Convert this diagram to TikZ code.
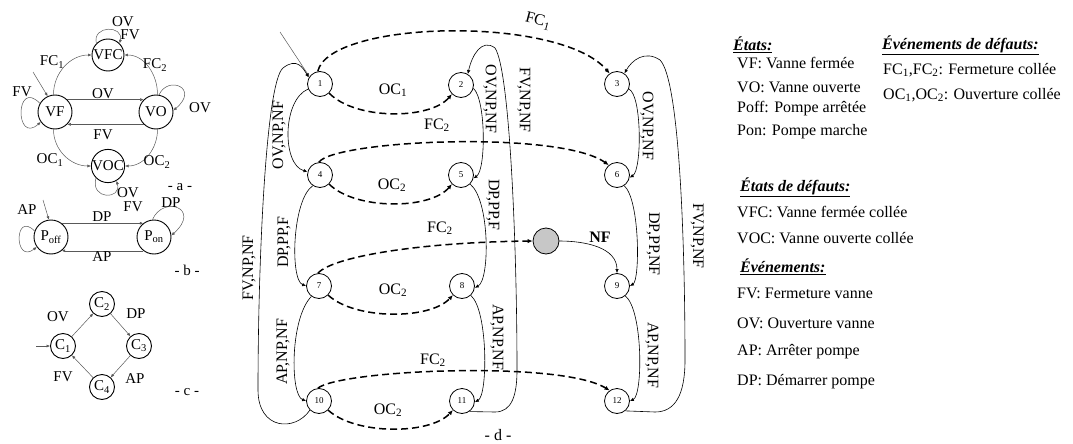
\documentclass[tikz,border=0pt]{standalone}
\usepackage{fontspec}
\setmainfont{Liberation Serif}
\usetikzlibrary{arrows.meta}
\begin{document}
\begin{tikzpicture}[x=1pt,y=-1pt,
  stA/.style={circle,draw,line width=0.9pt,minimum size=34pt,inner sep=0pt,font=\fontsize{15}{15}\selectfont},
  stC/.style={circle,draw,line width=0.9pt,minimum size=25pt,inner sep=0pt,font=\fontsize{15}{15}\selectfont},
  stD/.style={circle,draw,line width=0.8pt,minimum size=25pt,inner sep=0pt,font=\fontsize{9}{9}\selectfont},
  thinar/.style={draw=black!65,line width=0.5pt,-{Latex[length=3.5pt,width=3pt]}},
  solar/.style={draw,line width=0.6pt,-{Latex[length=4pt,width=3.5pt]}},
  dashar/.style={draw,line width=1.5pt,dash pattern=on 7pt off 4pt,-{Latex[length=5pt,width=4.5pt]}},
  lblA/.style={font=\fontsize{15}{15}\selectfont,inner sep=0pt},
  lblD/.style={font=\fontsize{16}{16}\selectfont,inner sep=0pt},
  leg/.style={font=\fontsize{16}{16}\selectfont,inner sep=0pt,anchor=west}
]
\useasboundingbox (0,0) rectangle (1073,444);
% ---------- part a ----------
\node[stA] (VF) at (55,112) {VF};
\node[stA] (VO) at (156,112) {VO};
\node[stA,minimum size=32pt] (VFC) at (108,55) {VFC};
\node[stA,minimum size=32pt] (VOC) at (108,166) {VOC};
\coordinate (iA) at (33,72);
\draw[thinar] (iA) -- (VF.115);
\draw[thinar] (VF.45) -- (VO.135);
\draw[thinar] (VO.225) -- (VF.315);
\draw[thinar] (VF.95) to[out=90,in=180] (VFC.west);
\draw[thinar] (VO.85) to[out=90,in=0] (VFC.east);
\draw[thinar] (VF.265) to[out=-90,in=180] (VOC.west);
\draw[thinar] (VO.275) to[out=-90,in=0] (VOC.east);
\draw[thinar] (VF.150) .. controls (15,78) and (15,145) .. (VF.215);
\draw[thinar] (VO.80) .. controls (168,75) and (200,88) .. (VO.5);
\draw[thinar] (VFC.135) .. controls (92,25) and (124,25) .. (VFC.45);
\draw[thinar] (VOC.225) .. controls (90,200) and (122,200) .. (VOC.300);
\node[lblA] (la1) at (103,94) {OV};
\node[lblA] (la2) at (103,135) {FV};
\node[lblA] (la3) at (52,62) {FC\textsubscript{1}};
\node[lblA] (la4) at (155,65) {FC\textsubscript{2}};
\node[lblA] (la5) at (50,160) {OC\textsubscript{1}};
\node[lblA] (la6) at (157,162) {OC\textsubscript{2}};
\node[lblA] (la7) at (22,92) {FV};
\node[lblA] (la8) at (200,108) {OV};
\node[lblA] (la9) at (123,22) {OV};
\node[lblA] (la10) at (130,35) {FV};
\node[lblA] (la11) at (128,193) {OV};
\node[lblA] (la12) at (133,207) {FV};
\node[lblA] (ta) at (180,187) {- a -};
% ---------- part b ----------
\node[stA] (Poff) at (51,237) {P\textsubscript{off}};
\node[stA] (Pon) at (154,237) {P\textsubscript{on}};
\coordinate (iB) at (43,200);
\draw[thinar] (iB) -- (Poff.97);
\draw[thinar] (Poff.52) -- (Pon.128);
\draw[thinar] (Pon.232) -- (Poff.308);
\draw[thinar] (Poff.160) .. controls (14,210) and (14,265) .. (Poff.215);
\draw[thinar] (Pon.95) .. controls (163,195) and (202,208) .. (Pon.5);
\node[lblA] (lb1) at (102,217) {DP};
\node[lblA] (lb2) at (102,257) {AP};
\node[lblA] (lb3) at (27,210) {AP};
\node[lblA] (lb4) at (171,203) {DP};
\node[lblA] (tb) at (187,270) {- b -};
% ---------- part c ----------
\node[stC] (C1) at (63,346) {C\textsubscript{1}};
\node[stC] (C2) at (102,304) {C\textsubscript{2}};
\node[stC] (C3) at (139,346) {C\textsubscript{3}};
\node[stC] (C4) at (102,387) {C\textsubscript{4}};
\coordinate (iC) at (36,346);
\draw[thinar] (iC) -- (C1.west);
\draw[thinar] (C1) -- (C2);
\draw[thinar] (C2) -- (C3);
\draw[thinar] (C3) -- (C4);
\draw[thinar] (C4) -- (C1);
\node[lblA] (lc1) at (58,317) {OV};
\node[lblA] (lc2) at (136,314) {DP};
\node[lblA] (lc3) at (135,379) {AP};
\node[lblA] (lc4) at (63,377) {FV};
\node[lblA] (tc) at (187,392) {- c -};
% ---------- part d ----------
\node[stD] (n1) at (320,84) {1};
\node[stD] (n2) at (461,85) {2};
\node[stD] (n3) at (617,84) {3};
\node[stD] (n4) at (320,175) {4};
\node[stD] (n5) at (461,175) {5};
\node[stD] (n6) at (617,175) {6};
\node[stD] (n7) at (319,286) {7};
\node[stD] (n8) at (462,286) {8};
\node[stD] (n9) at (617,286) {9};
\node[stD] (n10) at (319,401) {10};
\node[stD] (n11) at (462,401) {11};
\node[stD] (n12) at (617,401) {12};
\node[circle,draw,line width=0.8pt,fill=black!22,minimum size=26pt,inner sep=0pt] (g) at (546,241) {};
\coordinate (iD) at (280,32);
\draw[draw=black!65,line width=0.5pt,-{Latex[length=3.5pt,width=3pt]}] (iD) -- (n1.145);
% dashed fault transitions
\draw[dashar] (n1.-45) .. controls (355,120) and (430,120) .. (n2.225);
\draw[dashar] (n4.-45) .. controls (355,210) and (430,210) .. (n5.225);
\draw[dashar] (n7.-45) .. controls (355,320) and (430,320) .. (n8.225);
\draw[dashar] (n10.-45) .. controls (355,435) and (430,435) .. (n11.225);
\draw[dashar] (n1.100) .. controls (330,20) and (560,15) .. (n3.125);
\draw[dashar] (n4.95) .. controls (335,140) and (560,130) .. (n6.130);
\draw[dashar] (n7.95) .. controls (335,255) and (430,242) .. (g.west);
\draw[dashar] (n10.95) .. controls (340,370) and (560,360) .. (n12.125);
\draw[solar] (g.east) to[out=0,in=90] (n9.north);
% vertical transitions
\draw[solar] (n1.203) .. controls (282,100) and (282,165) .. (n4.165);
\draw[solar] (n4.236) .. controls (292,200) and (290,280) .. (n7.180);
\draw[solar] (n7.234) .. controls (290,318) and (290,395) .. (n10.180);
\draw[solar] (n2.-15) .. controls (486,100) and (486,170) .. (n5.-15);
\draw[solar] (n5.-45) .. controls (490,200) and (490,280) .. (n8.-8);
\draw[solar] (n8.-47) .. controls (488,310) and (488,395) .. (n11.-5);
\draw[solar] (n3.-23) .. controls (642,95) and (642,170) .. (n6.-12);
\draw[solar] (n6.-56) .. controls (640,200) and (640,280) .. (n9.0);
\draw[solar] (n9.-50) .. controls (643,310) and (643,395) .. (n12.0);
% big loops
\draw[solar] (n10.225) .. controls (295,432) and (258,430) .. (258,390)
  .. controls (258,260) and (266,82) .. (283,68)
  .. controls (297,57) and (303,68) .. (n1.150);
\draw[solar] (n11.-55) -- (495,412) .. controls (512,412) and (517,395) .. (517,370)
  .. controls (517,250) and (510,70) .. (495,48)
  .. controls (482,38) and (472,55) .. (n2.58);
\draw[solar] (n12.-50) -- (655,412) .. controls (675,412) and (685,395) .. (685,360)
  .. controls (685,250) and (680,80) .. (660,60)
  .. controls (645,50) and (632,60) .. (n3.55);
% labels d
\node[lblD] (d1) at (393,90) {OC\textsubscript{1}};
\node[lblD] (d2) at (392,185) {OC\textsubscript{2}};
\node[lblD] (d3) at (393,290) {OC\textsubscript{2}};
\node[lblD] (d4) at (388,410) {OC\textsubscript{2}};
\node[lblD] (d5) at (437,125) {FC\textsubscript{2}};
\node[lblD] (d6) at (440,228) {FC\textsubscript{2}};
\node[lblD] (d7) at (433,360) {FC\textsubscript{2}};
\node[lblD,rotate=-15] (d8) at (538,21) {FC\textsubscript{1}};
\node[lblD,font=\fontsize{16}{16}\selectfont\bfseries] (d9) at (600,237) {NF};
\node[lblD,rotate=90] (e1) at (279,135) {OV,NP,NF};
\node[lblD,rotate=90] (e2) at (284,242) {DP,PP,F};
\node[lblD,rotate=90] (e3) at (283,352) {AP,NP,NF};
\node[lblD,rotate=90] (e4) at (249,268) {FV,NP,NF};
\node[lblD,rotate=-90] (e5) at (490,99) {OV,NP,NF};
\node[lblD,rotate=-90] (e6) at (493,205) {DP,PP,F};
\node[lblD,rotate=-90] (e7) at (497,337) {AP,NP,NF};
\node[lblD,rotate=-90] (e8) at (524,100) {FV,NP,NF};
\node[lblD,rotate=-90] (e9) at (647,126) {OV,NP,NF};
\node[lblD,rotate=-90] (e10) at (653,244) {DP,PP,NF};
\node[lblD,rotate=-90] (e11) at (652,355) {AP,NP,NF};
\node[lblD,rotate=-90] (e12) at (697,236) {FV,NP,NF};
\node[lblD] (td) at (498,435) {- d -};
% ---------- legend ----------
\node[leg] (L1) at (733,45) {\underline{\textbf{\textit{États:}}}};
\node[leg] (L2) at (737,63) {VF: Vanne fermée};
\node[leg] (L3) at (737,87) {VO: Vanne ouverte};
\node[leg] (L4) at (737,109) {Poff: Pompe arrêtée};
\node[leg] (L5) at (737,132) {Pon: Pompe marche};
\node[leg] (L6) at (882,45) {\underline{\textbf{\textit{Événements de défauts:}}}};
\node[leg] (L7) at (883,70) {FC\textsubscript{1},FC\textsubscript{2}: Fermeture collée};
\node[leg] (L8) at (883,95) {OC\textsubscript{1},OC\textsubscript{2}: Ouverture collée};
\node[leg] (L9) at (740,187) {\underline{\textbf{\textit{États de défauts:}}}};
\node[leg] (L10) at (737,212) {VFC: Vanne fermée collée};
\node[leg] (L11) at (737,238) {VOC: Vanne ouverte collée};
\node[leg] (L12) at (740,267) {\underline{\textbf{\textit{Événements:}}}};
\node[leg] (L13) at (737,293) {FV: Fermeture vanne};
\node[leg] (L14) at (737,323) {OV: Ouverture vanne};
\node[leg] (L15) at (737,352) {AP: Arrêter pompe};
\node[leg] (L16) at (737,382) {DP: Démarrer pompe};
\end{tikzpicture}
\end{document}
